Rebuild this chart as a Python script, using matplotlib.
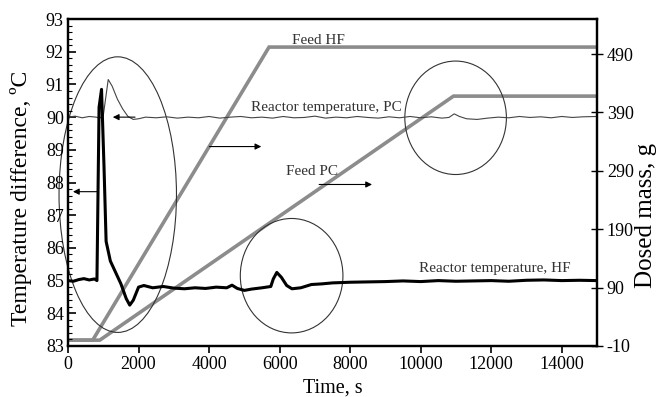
import numpy as np
import matplotlib
matplotlib.use('Agg')
from matplotlib import pyplot as plt
from matplotlib.patches import Ellipse
from matplotlib.ticker import MultipleLocator

# dosed mass, g (right axis)
feed_hf_t = [0, 700, 5700, 15000]
feed_hf_m = [0, 0, 502, 502]
feed_pc_t = [0, 900, 10930, 15000]
feed_pc_m = [0, 0, 418, 418]

# reactor temperature, PC (thin line)
pc_t = [0, 200, 400, 600, 800, 900, 1000, 1140, 1250, 1400, 1550, 1700, 1850, 2000, 2200,
        2500, 2800, 3100, 3400, 3700, 4000, 4300, 4600, 4900, 5200, 5500, 5800, 6100,
        6400, 6700, 7000, 7300, 7600, 7900, 8200, 8500, 8800, 9100, 9400, 9700, 10000,
        10300, 10600, 10800, 10950, 11100, 11300, 11600, 11900, 12200, 12500, 12800,
        13100, 13400, 13700, 14000, 14300, 14600, 15000]
pc_v = [90.0, 90.03, 89.98, 90.02, 90.0, 89.97, 90.05, 91.15, 90.95, 90.55, 90.25, 90.02,
        89.93, 89.95, 90.0, 89.98, 90.01, 89.97, 90.0, 89.98, 90.02, 89.97, 90.0, 90.02,
        89.98, 90.0, 89.97, 90.02, 89.98, 89.99, 90.03, 89.97, 90.0, 89.98, 90.02, 89.99,
        89.97, 90.01, 89.98, 90.02, 89.98, 90.01, 89.97, 89.99, 90.1, 90.02, 89.95, 89.93,
        89.97, 90.0, 89.98, 90.02, 89.99, 90.01, 89.98, 90.02, 89.99, 90.01, 90.02]

# reactor temperature, HF (thick line)
hf_t = [0, 150, 300, 450, 600, 750, 820, 880, 950, 1020, 1080, 1200, 1350, 1500, 1650,
        1750, 1850, 2000, 2150, 2400, 2700, 3000, 3300, 3600, 3900, 4200, 4500, 4650,
        4800, 5000, 5200, 5500, 5750, 5820, 5920, 6050, 6200, 6350, 6600, 6900, 7200,
        7500, 8000, 8500, 9000, 9500, 10000, 10500, 11000, 11500, 12000, 12500, 13000,
        13500, 14000, 14500, 15000]
hf_v = [85.0, 84.98, 85.03, 85.06, 85.02, 85.05, 85.0, 90.3, 90.85, 88.5, 86.2, 85.6,
        85.25, 84.9, 84.45, 84.25, 84.4, 84.8, 84.85, 84.78, 84.82, 84.77, 84.75, 84.78,
        84.76, 84.8, 84.78, 84.86, 84.76, 84.7, 84.74, 84.78, 84.82, 85.05, 85.25, 85.1,
        84.85, 84.75, 84.78, 84.88, 84.9, 84.93, 84.95, 84.96, 84.97, 84.99, 84.97, 85.0,
        84.98, 84.99, 85.0, 84.98, 85.01, 85.02, 85.0, 85.01, 85.0]

plt.rcParams['font.family'] = ['Liberation Serif', 'DejaVu Serif']
plt.rcParams['axes.linewidth'] = 1.6
plt.rcParams['axes.unicode_minus'] = False

fig = plt.figure(figsize=(6.63, 3.97), dpi=100)
ax = fig.add_axes([0.1026, 0.1285, 0.7979, 0.8235])
ax2 = ax.twinx()
ax.set_zorder(ax2.get_zorder() + 1)
ax.patch.set_visible(False)

ax2.plot(feed_hf_t, feed_hf_m, color='#8c8c8c', lw=2.6, solid_joinstyle='miter')
ax2.plot(feed_pc_t, feed_pc_m, color='#8c8c8c', lw=2.6, solid_joinstyle='miter')
ax2.set_ylim(-10, 550)
ax2.set_yticks([-10, 90, 190, 290, 390, 490])
ax2.tick_params(axis='y', direction='inout', length=8, width=1.0, labelsize=13, pad=3)
ax2.set_ylabel('Dosed mass, g', fontsize=18)
ax2.yaxis.set_label_coords(1.072, 0.40)

ax.plot(pc_t, pc_v, color='#444444', lw=0.8)
ax.plot(hf_t, hf_v, color='black', lw=2.2)

ax.set_xlim(0, 15000)
ax.set_ylim(83, 93)
ax.set_xticks(np.arange(0, 15000, 2000))
ax.set_yticks(np.arange(83, 94, 1))
ax.yaxis.set_minor_locator(MultipleLocator(0.2))
ax.tick_params(axis='y', which='major', direction='in', length=6, width=1.2, labelsize=13, pad=3)
ax.tick_params(axis='y', which='minor', direction='in', length=3, width=0.8)
ax.tick_params(axis='x', direction='out', length=5, width=1.2, labelsize=13, pad=2)
ax.set_xlabel('Time, s', fontsize=14.5, labelpad=4)
ax.set_ylabel('Temperature difference, ºC', fontsize=17)
ax.yaxis.set_label_coords(-0.068, 0.45)

# circles marking the disturbances
for (cx, cy, w, h) in [(1410, 87.63, 3330, 8.43), (6340, 85.15, 2910, 3.50), (10990, 89.98, 2880, 3.47)]:
    ax.add_patch(Ellipse((cx, cy), w, h, fill=False, ec='#333333', lw=0.8, clip_on=False))

arrow = dict(arrowstyle='-|>', color='black', lw=0.8, mutation_scale=9, shrinkA=0, shrinkB=0)
ax.annotate('', xy=(1270, 90.0), xytext=(1900, 90.0), arrowprops=arrow)
ax.annotate('', xy=(140, 87.72), xytext=(820, 87.72), arrowprops=arrow)
ax.annotate('', xy=(5480, 89.1), xytext=(4010, 89.1), arrowprops=arrow)
ax.annotate('', xy=(8620, 87.94), xytext=(7120, 87.94), arrowprops=arrow)

txt = dict(fontsize=11, color='#333333', va='center')
ax.text(6360, 92.33, 'Feed HF', **txt)
ax.text(5200, 90.3, 'Reactor temperature, PC', **txt)
ax.text(6190, 88.34, 'Feed PC', **txt)
ax.text(9940, 85.36, 'Reactor temperature, HF', **txt)

plt.savefig('out.png', dpi=100)
